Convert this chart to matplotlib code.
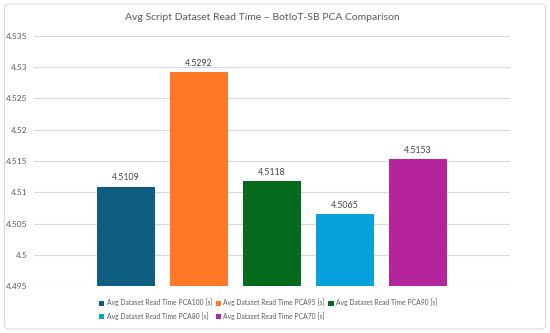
import matplotlib.pyplot as plt
from matplotlib.patches import FancyBboxPatch

# data
series = ["Avg Dataset Read Time PCA100 [s]", "Avg Dataset Read Time PCA95 [s]",
          "Avg Dataset Read Time PCA90 [s]", "Avg Dataset Read Time PCA80 [s]",
          "Avg Dataset Read Time PCA70 [s]"]
values = [4.5109, 4.5292, 4.5118, 4.5065, 4.5153]
labels = ["4.5109", "4.5292", "4.5118", "4.5065", "4.5153"]
colors = ["#0E5E82", "#FF7828", "#046A1C", "#06A0DB", "#B5249A"]
yticks = [4.495, 4.5, 4.505, 4.51, 4.515, 4.52, 4.525, 4.53, 4.535]
ytick_labels = ["4.495", "4.5", "4.505", "4.51", "4.515", "4.52", "4.525", "4.53", "4.535"]
ymin, ymax = 4.495, 4.535

plt.rcParams['font.family'] = ['Lato', 'DejaVu Sans']

fig = plt.figure(figsize=(5.5, 3.33), dpi=100)
# outer chart border
border = FancyBboxPatch((0.008, 0.012), 0.984, 0.976, boxstyle="round,pad=0,rounding_size=0.01",
                        transform=fig.transFigure, facecolor="white",
                        edgecolor="#D9D9D9", linewidth=0.8, zorder=-5)
fig.patches.append(border)

ax = fig.add_axes([0.062, 0.141, 0.865, 0.751])
ax.set_facecolor("none")

handles = []
for i, (name, v, c, lab) in enumerate(zip(series, values, colors, labels)):
    b = ax.bar(i, v - ymin, bottom=ymin, width=0.795, color=c, label=name, zorder=3)
    handles.append(b)
    ax.text(i, v + 0.0007, lab, ha="center", va="bottom", fontsize=6.3, color="#404040")

ax.set_xlim(-1.26, 5.26)
ax.set_ylim(ymin, ymax)
ax.set_yticks(yticks)
ax.set_yticklabels(ytick_labels)
ax.set_xticks([])
ax.grid(axis="y", color="#D9D9D9", linewidth=0.8, zorder=0)
ax.tick_params(axis="y", length=0, labelsize=6, labelcolor="#595959", pad=5)
for s in ax.spines.values():
    s.set_visible(False)

fig.text(0.477, 0.948, "Avg Script Dataset Read Time \u2013 BotIoT-SB PCA Comparison",
         ha="center", va="center", fontsize=7.5, color="#595959")

# row-wise ordering for a 3-column legend
order = [0, 3, 1, 4, 2]
leg = fig.legend([handles[k] for k in order], [series[k] for k in order],
                 loc="upper left", bbox_to_anchor=(0.18, 0.103), ncol=3, frameon=False,
                 fontsize=4.85, handlelength=0.8, handleheight=0.8, handletextpad=0.35,
                 columnspacing=0.5, labelspacing=0.85, borderaxespad=0, borderpad=0)
for t in leg.get_texts():
    t.set_color("#595959")

fig.savefig("out.png", dpi=100)
